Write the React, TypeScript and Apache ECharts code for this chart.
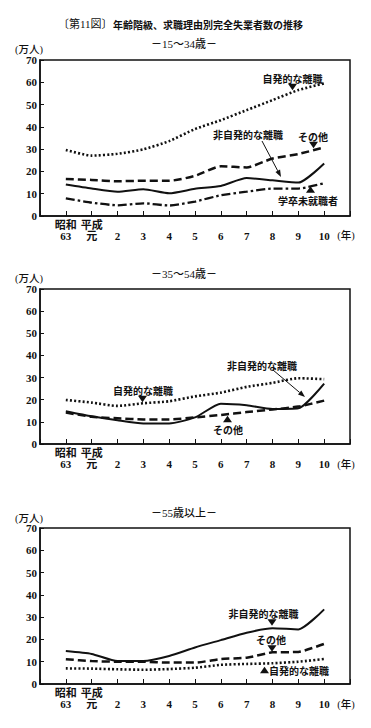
import React, { useEffect, useRef } from "react";
import * as echarts from "echarts";

// Categories (years)
const xLabels = ["昭和\n63", "平成\n元", "2", "3", "4", "5", "6", "7", "8", "9", "10"];
const yTicks = [0, 10, 20, 30, 40, 50, 60, 70];

// 15〜34歳
const y15Voluntary = [29.6, 27.1, 27.9, 29.9, 33.6, 39.0, 43.0, 47.5, 52.0, 56.5, 59.5];
const y15Involuntary = [14.1, 12.3, 10.9, 12.0, 10.2, 12.2, 13.5, 17.0, 16.0, 15.0, 23.6];
const y15Other = [16.6, 16.2, 15.6, 15.8, 15.8, 18.0, 22.3, 21.8, 25.8, 27.8, 30.8];
const y15Graduates = [7.9, 6.0, 4.8, 5.7, 4.7, 6.5, 9.3, 10.9, 12.3, 12.3, 14.7];

// 35〜54歳
const m35Voluntary = [19.9, 18.7, 17.2, 18.4, 19.3, 21.5, 23.2, 25.8, 27.6, 29.7, 29.3];
const m35Involuntary = [14.8, 12.5, 10.7, 9.3, 9.3, 12.0, 18.2, 17.5, 15.8, 16.1, 27.3];
const m35Other = [14.2, 12.3, 11.6, 11.1, 11.1, 12.0, 13.1, 14.4, 15.6, 16.9, 19.6];

// 55歳以上
const o55Involuntary = [14.8, 13.5, 10.3, 10.3, 12.6, 16.4, 19.7, 23.0, 25.0, 24.5, 33.5];
const o55Other = [11.1, 10.3, 10.0, 10.0, 9.6, 9.6, 11.2, 11.8, 14.2, 14.4, 18.0];
const o55Voluntary = [7.0, 6.9, 6.6, 6.4, 6.7, 7.3, 8.6, 9.0, 9.3, 10.0, 11.2];

const INK = "#111";
const SERIF = "'Liberation Serif', 'Noto Sans CJK JP', serif";
const GOTHIC = "'Noto Sans CJK JP', sans-serif";

const grids = [
  { left: 40, top: 60, width: 310, height: 156 },
  { left: 40, top: 289, width: 310, height: 155 },
  { left: 40, top: 528, width: 310, height: 156 },
];

const styles: Record<string, any> = {
  dotted: { type: [2, 2.2], width: 2.6, cap: "butt", color: INK },
  solid: { type: "solid", width: 2, color: INK },
  dashed: { type: [8, 4], width: 2.5, cap: "butt", color: INK },
  dashdot: { type: [9, 3, 2.5, 3], width: 2.3, cap: "butt", color: INK },
};

function line(name: string, values: number[], idx: number, style: string) {
  return {
    type: "line",
    name,
    xAxisIndex: idx,
    yAxisIndex: idx,
    data: values.map((v, i) => [i, v]),
    symbol: "none",
    smooth: 0.2,
    lineStyle: styles[style],
    silent: true,
  };
}

function txt(text: string, x: number, y: number, font: string, align = "center") {
  return {
    type: "text",
    x,
    y,
    silent: true,
    style: { text, font, fill: INK, align, verticalAlign: "middle" },
  };
}

function tri(cx: number, cy: number, down: boolean) {
  const w = 4.5;
  const h = 6.5;
  const pts = down
    ? [[cx - w, cy - h / 2], [cx + w, cy - h / 2], [cx, cy + h / 2]]
    : [[cx - w, cy + h / 2], [cx + w, cy + h / 2], [cx, cy - h / 2]];
  return { type: "polygon", silent: true, shape: { points: pts }, style: { fill: INK } };
}

function arrow(x1: number, y1: number, x2: number, y2: number) {
  const dx = x2 - x1;
  const dy = y2 - y1;
  const len = Math.sqrt(dx * dx + dy * dy);
  const ux = dx / len;
  const uy = dy / len;
  const hl = 7;
  const hw = 2.6;
  const bx = x2 - ux * hl;
  const by = y2 - uy * hl;
  return [
    { type: "line", silent: true, shape: { x1, y1, x2: bx, y2: by }, style: { stroke: INK, lineWidth: 1 } },
    {
      type: "polygon",
      silent: true,
      shape: { points: [[x2, y2], [bx - uy * hw, by + ux * hw], [bx + uy * hw, by - ux * hw]] },
      style: { fill: INK },
    },
  ];
}

export default function App() {
  const ref = useRef<HTMLDivElement>(null);
  useEffect(() => {
    if (!ref.current) return;
    const chart = echarts.init(ref.current, null, { renderer: "svg" });
    const xAxes = grids.map((_, i) => ({
      type: "value",
      gridIndex: i,
      min: -1,
      max: 11,
      interval: 1,
      axisLine: { show: true, onZero: false, lineStyle: { color: INK, width: 1.5 } },
      axisTick: { show: true, inside: true, length: 5, lineStyle: { color: INK, width: 1 } },
      splitLine: { show: false },
      axisLabel: {
        show: true,
        margin: 3,
        fontFamily: SERIF,
        fontSize: 11,
        fontWeight: "bold",
        color: INK,
        lineHeight: 11.5,
        verticalAlign: "top",
        formatter: (v: number) => {
          const l = xLabels[v];
          if (v < 0 || v > 10 || l === undefined) return "";
          return l.indexOf("\n") >= 0 ? l : "\n" + l;
        },
      },
    }));
    const yAxes = grids.map((_, i) => ({
      type: "value",
      gridIndex: i,
      min: yTicks[0],
      max: yTicks[yTicks.length - 1],
      interval: 10,
      axisLine: { show: true, onZero: false, lineStyle: { color: INK, width: 1.5 } },
      axisTick: { show: true, inside: true, length: 4, lineStyle: { color: INK, width: 1 } },
      splitLine: { show: false },
      axisLabel: {
        show: true,
        margin: 3,
        fontFamily: SERIF,
        fontSize: 11,
        fontWeight: "bold",
        color: INK,
      },
    }));

    const labelFont = `bold 10px ${GOTHIC}`;
    const subFont = `500 11px ${SERIF}`;

    const graphic: any[] = [
      txt("〔第11図〕", 58, 24, `11px ${SERIF}`, "left"),
      txt("年齢階級、求職理由別完全失業者数の推移", 113, 24, `bold 10px ${GOTHIC}`, "left"),
      // panel 1
      txt("－15～34歳－", 184, 44, subFont),
      txt("(万人)", 15, 49, `500 10.5px ${SERIF}`, "left"),
      txt("(年)", 346, 235, `500 10.5px ${SERIF}`),
      txt("自発的な離職", 292.5, 78, labelFont),
      tri(292.5, 87, true),
      txt("非自発的な離職", 248, 134, labelFont),
      ...arrow(262, 141, 281, 177),
      txt("その他", 313, 136, labelFont),
      tri(313.5, 145, true),
      tri(310.5, 189.5, false),
      txt("学卒未就職者", 308, 200, labelFont),
      // panel 2
      txt("－35～54歳－", 184, 274, subFont),
      txt("(万人)", 15, 278, `500 10.5px ${SERIF}`, "left"),
      txt("(年)", 346, 464, `500 10.5px ${SERIF}`),
      txt("非自発的な離職", 262, 365, labelFont),
      ...arrow(273, 370, 305, 397),
      txt("自発的な離職", 143, 390, labelFont),
      tri(142.5, 399, true),
      tri(227.5, 419, false),
      txt("その他", 228, 429, labelFont),
      // panel 3
      txt("－55歳以上－", 184, 513, subFont),
      txt("(万人)", 15, 518, `500 10.5px ${SERIF}`, "left"),
      txt("(年)", 346, 704, `500 10.5px ${SERIF}`),
      txt("非自発的な離職", 263.5, 613, labelFont),
      tri(272, 622.5, true),
      txt("その他", 271, 639, labelFont),
      tri(272, 648.5, true),
      tri(264.5, 670, false),
      txt("自発的な離職", 269, 670, labelFont, "left"),
    ];

    chart.setOption({
      animation: false,
      backgroundColor: "#fff",
      grid: grids.map((g) => ({
        ...g,
        show: true,
        borderColor: INK,
        borderWidth: 1.5,
        backgroundColor: "transparent",
        containLabel: false,
      })),
      xAxis: xAxes,
      yAxis: yAxes,
      series: [
        line("自発的な離職", y15Voluntary, 0, "dotted"),
        line("非自発的な離職", y15Involuntary, 0, "solid"),
        line("その他", y15Other, 0, "dashed"),
        line("学卒未就職者", y15Graduates, 0, "dashdot"),
        line("自発的な離職", m35Voluntary, 1, "dotted"),
        line("非自発的な離職", m35Involuntary, 1, "solid"),
        line("その他", m35Other, 1, "dashed"),
        line("非自発的な離職", o55Involuntary, 2, "solid"),
        line("その他", o55Other, 2, "dashed"),
        line("自発的な離職", o55Voluntary, 2, "dotted"),
      ],
      graphic,
    });
    return () => chart.dispose();
  }, []);
  return (
    <div
      ref={ref}
      style={{ position: "absolute", left: 0, top: 0, width: 371, height: 728, background: "#fff" }}
    />
  );
}
